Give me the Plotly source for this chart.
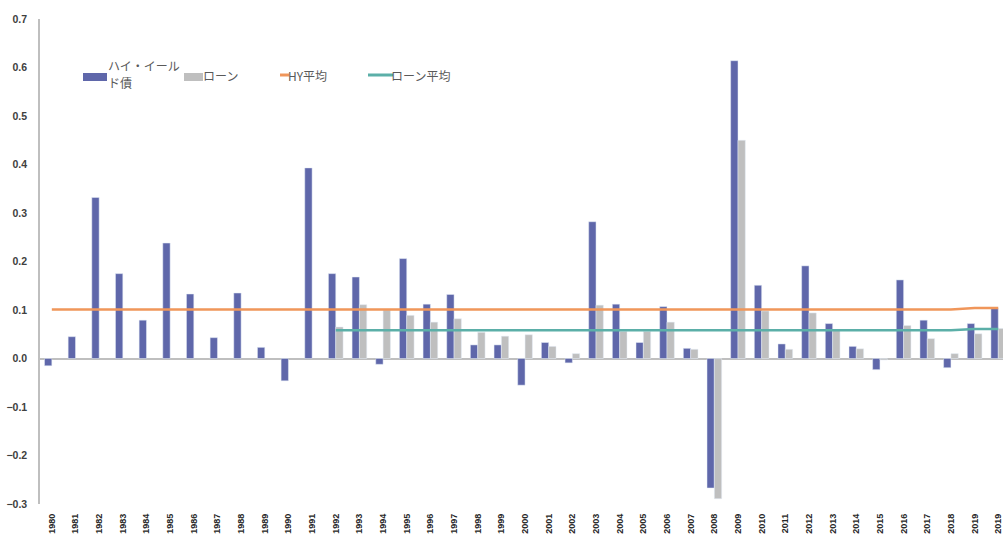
import plotly.graph_objects as go

# ---- data ----
years = ["1980", "1981", "1982", "1983", "1984", "1985", "1986", "1987", "1988", "1989",
         "1990", "1991", "1992", "1993", "1994", "1995", "1996", "1997", "1998", "1999",
         "2000", "2001", "2002", "2003", "2004", "2005", "2006", "2007", "2008", "2009",
         "2010", "2011", "2012", "2013", "2014", "2015", "2016", "2017", "2018", "2019",
         "2019"]

hy_returns = [-0.015, 0.045, 0.332, 0.175, 0.079, 0.238, 0.133, 0.043, 0.135, 0.023,
              -0.046, 0.393, 0.175, 0.168, -0.012, 0.206, 0.112, 0.132, 0.028, 0.028,
              -0.055, 0.033, -0.009, 0.282, 0.112, 0.033, 0.107, 0.021, -0.267, 0.614,
              0.151, 0.030, 0.191, 0.072, 0.025, -0.023, 0.162, 0.079, -0.019, 0.072,
              0.103]

loan_returns = [None] * 12 + [
    0.065, 0.111, 0.100, 0.089, 0.075, 0.082, 0.054, 0.046,
    0.049, 0.025, 0.010, 0.110, 0.056, 0.056, 0.075, 0.019, -0.289, 0.450,
    0.098, 0.019, 0.094, 0.060, 0.020, -0.003, 0.068, 0.041, 0.010, 0.051,
    0.062]

hy_avg = [0.101] * 39 + [0.104, 0.104]
loan_avg = [None] * 12 + [0.058] * 27 + [0.061, 0.061]

legend_labels = ["ハイ・イール", "ド債", "ローン", "HY平均", "ローン平均"]

# ---- styles ----
C_HY = "#5F67AA"
C_LOAN = "#BFBFBF"
C_HYAVG = "#F0965A"
C_LOANAVG = "#5BAFA8"
AXIS_GRAY = "#BFBFBF"
TEXT = "#595959"

x = list(range(len(years)))

fig = go.Figure()
fig.add_trace(go.Bar(x=x, y=hy_returns, name="ハイ・イールド債", marker_color=C_HY))
fig.add_trace(go.Bar(x=x, y=loan_returns, name="ローン", marker_color=C_LOAN))
fig.add_trace(go.Scatter(x=x, y=hy_avg, name="HY平均", mode="lines",
                         line=dict(color=C_HYAVG, width=2.5)))
fig.add_trace(go.Scatter(x=x, y=loan_avg, name="ローン平均", mode="lines",
                         line=dict(color=C_LOANAVG, width=2.5)))

# ---- pixel helpers for legend (paper coords) ----
L, R_, T, B = 40, 1003, 19, 504
def px(v):
    return (v - L) / (R_ - L)
def py(v):
    return (B - v) / (B - T)

shapes = [
    dict(type="rect", xref="paper", yref="paper", x0=px(83), x1=px(107), y0=py(81), y1=py(73),
         fillcolor=C_HY, line=dict(width=0)),
    dict(type="rect", xref="paper", yref="paper", x0=px(184), x1=px(203), y0=py(81), y1=py(73),
         fillcolor=C_LOAN, line=dict(width=0)),
    dict(type="line", xref="paper", yref="paper", x0=px(280), x1=px(289), y0=py(75), y1=py(75),
         line=dict(color=C_HYAVG, width=3)),
    dict(type="line", xref="paper", yref="paper", x0=px(368), x1=px(393), y0=py(75), y1=py(75),
         line=dict(color=C_LOANAVG, width=3)),
]
lfont = dict(family="Noto Sans CJK JP", size=12, color=TEXT)
def ann(xp, yp, text):
    return dict(xref="paper", yref="paper", x=px(xp), y=py(yp), text=text,
                showarrow=False, xanchor="left", yanchor="middle", align="left",
                font=lfont, borderpad=0)
annotations = [
    ann(107, 65.5, legend_labels[0]),
    ann(107, 82, legend_labels[1]),
    ann(202, 75, legend_labels[2]),
    ann(287, 75, legend_labels[3]),
    ann(390, 75, legend_labels[4]),
]

fig.update_layout(
    width=1003, height=539,
    margin=dict(l=L, r=0, t=T, b=539 - B),
    paper_bgcolor="white", plot_bgcolor="white",
    barmode="group", bargap=0.38, bargroupgap=0,
    showlegend=False,
    shapes=shapes, annotations=annotations,
    font=dict(family="Liberation Sans", color="#404040"),
)
fig.update_xaxes(
    range=[-0.5, 40.2], tickmode="array", tickvals=x, ticktext=years,
    tickangle=-90, tickfont=dict(family="Liberation Sans", size=9, color="#262626", weight="bold"),
    showgrid=False, showline=False, zeroline=False, ticks="", ticklabelstandoff=7,
    ticklabeloverflow="allow", automargin=False,
)
fig.update_yaxes(
    range=[-0.3, 0.7], dtick=0.1, tick0=0, tickformat=".1f",
    tickfont=dict(family="Liberation Sans", size=10.5, color="#404040", weight="bold"),
    showgrid=False, showline=True, linecolor=AXIS_GRAY, linewidth=1.5,
    zeroline=True, zerolinecolor=AXIS_GRAY, zerolinewidth=1.5,
    ticks="", ticklabelstandoff=9, automargin=False,
)

fig.write_html("out.html")
